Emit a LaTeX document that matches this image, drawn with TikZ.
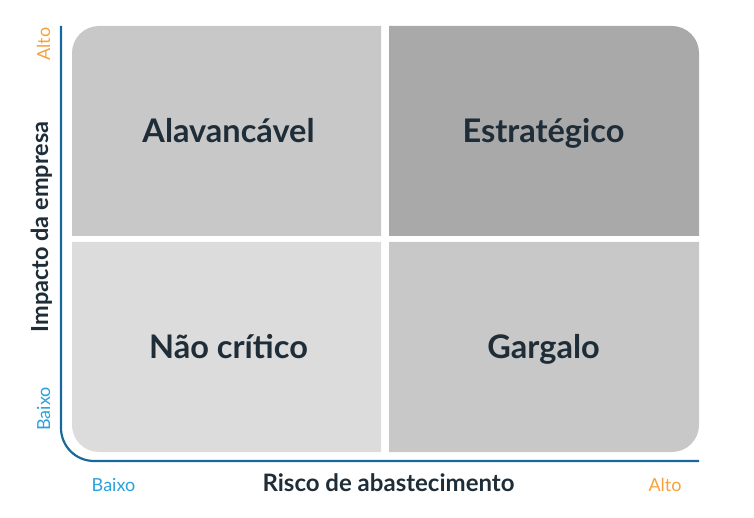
\documentclass[tikz,border=0pt]{standalone}
\usepackage{fontspec}
\setmainfont{Lato}
\definecolor{txt}{HTML}{1E2D37}
\definecolor{axisblue}{HTML}{17699B}
\definecolor{lowblue}{HTML}{2AA2DC}
\definecolor{highorange}{HTML}{F7A23C}
\definecolor{qa}{HTML}{C8C8C8}
\definecolor{qb}{HTML}{A9A9A9}
\definecolor{qc}{HTML}{DCDCDC}
\definecolor{qd}{HTML}{C8C8C8}
\tikzset{
  quadlabel/.style={font=\fontsize{32.5}{36}\selectfont\bfseries, text=txt, inner sep=0, anchor=base},
  axistitle/.style={font=\fontsize{23.5}{27}\selectfont\bfseries, text=txt, inner sep=0, anchor=base},
  lowlabel/.style={font=\fontsize{18}{21}\selectfont, text=lowblue, inner sep=0, anchor=base},
  highlabel/.style={font=\fontsize{18}{21}\selectfont, text=highorange, inner sep=0, anchor=base},
  axisline/.style={draw=axisblue, line width=2.2pt},
}
\begin{document}
\begin{tikzpicture}[x=1pt,y=-1pt]
\useasboundingbox (0,0) rectangle (754,518);
% quadrants
\fill[qa] (381,236) -- (72,236) [rounded corners=27] -- (72,26) [sharp corners] -- (381,26) -- cycle;
\fill[qb] (389,236) -- (389,26) [rounded corners=27] -- (699,26) [sharp corners] -- (699,236) -- cycle;
\fill[qc] (381,242) -- (72,242) [rounded corners=27] -- (72,452) [sharp corners] -- (381,452) -- cycle;
\fill[qd] (389,242) -- (389,452) [rounded corners=27] -- (699,452) [sharp corners] -- (699,242) -- cycle;
% axes
\coordinate (ytop) at (61,26);
\coordinate (origin) at (61,461);
\coordinate (xend) at (699,461);
\draw[axisline, rounded corners=33] (ytop) -- (origin) -- (xend);
% labels
\node[quadlabel] (alav) at (228.5,143) {Alavancável};
\node[quadlabel] (estr) at (543.5,143) {Estratégico};
\node[quadlabel] (naoc) at (228.5,358) {Não crítico};
\node[quadlabel] (garg) at (543.5,358) {Gargalo};
\node[axistitle, font=\fontsize{24}{27}\selectfont\bfseries] (xtitle) at (388.5,491) {Risco de abastecimento};
\node[axistitle, rotate=90] (ytitle) at (48,227) {Impacto da empresa};
\node[lowlabel] (xlow) at (113.5,491) {Baixo};
\node[highlabel] (xhigh) at (665,491) {Alto};
\node[lowlabel, rotate=90] (ylow) at (50,409) {Baixo};
\node[highlabel, rotate=90] (yhigh) at (50,44) {Alto};
\end{tikzpicture}
\end{document}
